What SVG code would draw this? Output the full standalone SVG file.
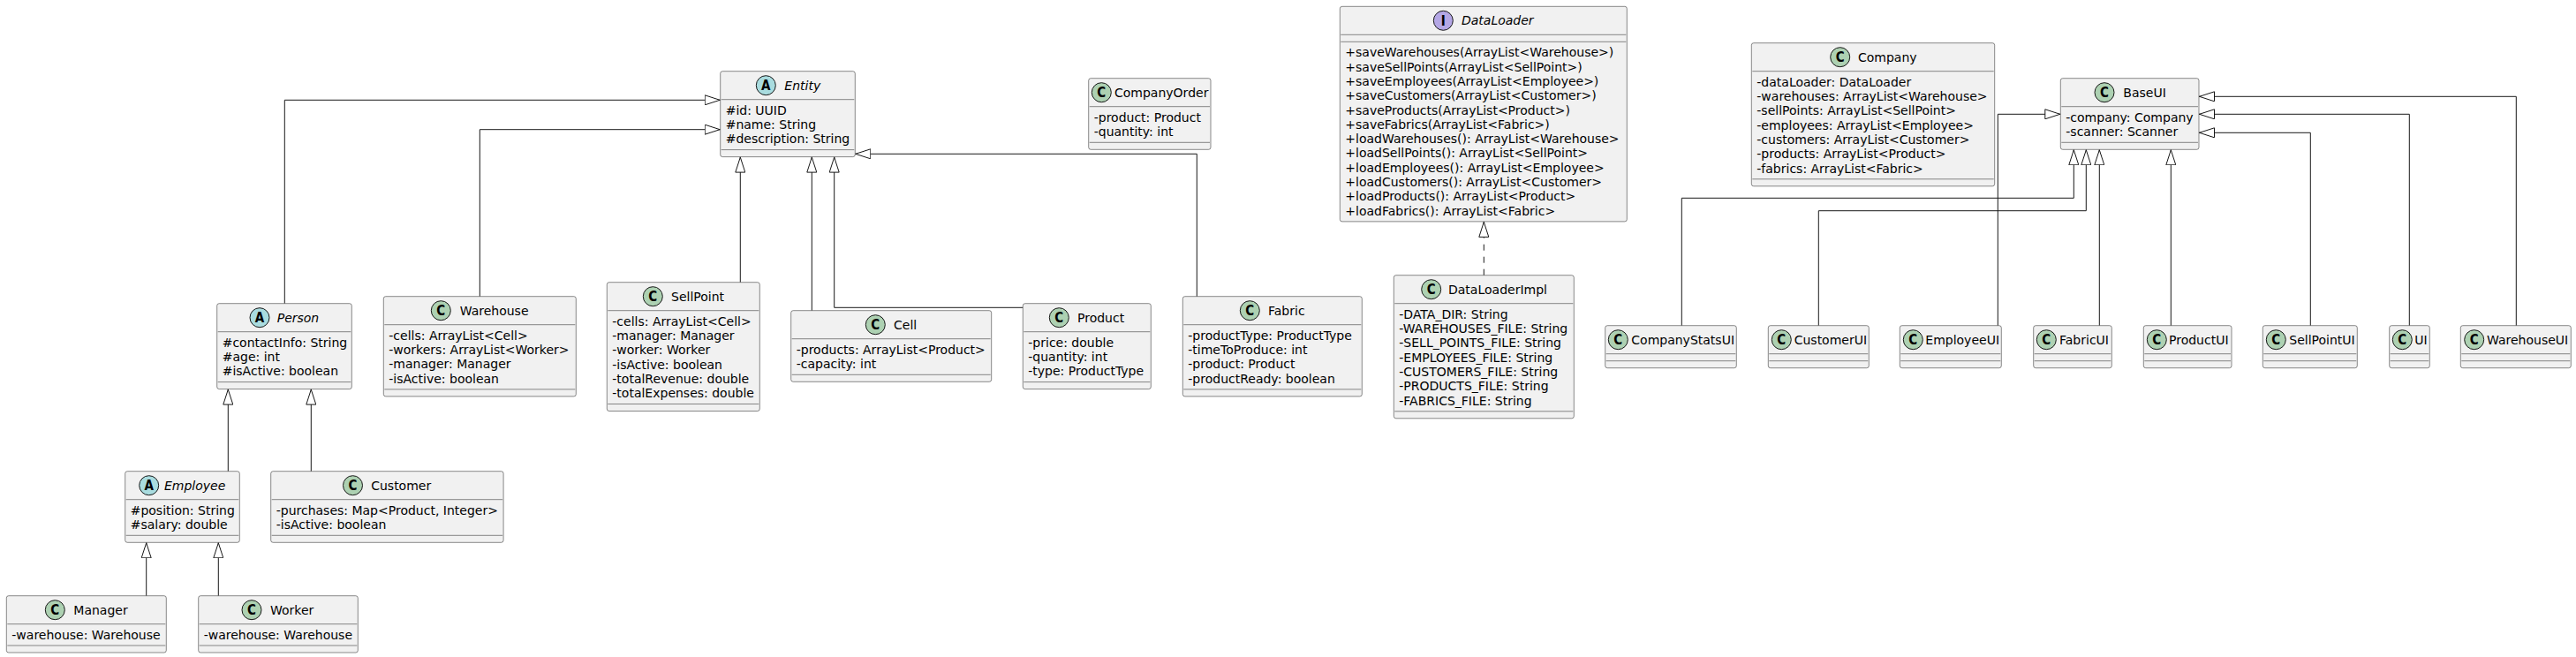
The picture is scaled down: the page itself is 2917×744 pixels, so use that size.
<svg xmlns="http://www.w3.org/2000/svg" width="2917" height="744" viewBox="0 0 2917 744">
<style>
.box{fill:#F1F1F1;stroke:#181818;stroke-width:0.5}
.sep{stroke:#181818;stroke-width:0.5}
.t{font-family:'DejaVu Sans',sans-serif;font-size:14px;fill:#000}
.it{font-style:italic}
.cc{fill:#ADD1B2;stroke:#181818;stroke-width:1}
.ca{fill:#A9DCDF;stroke:#181818;stroke-width:1}
.ci{fill:#B4A7E5;stroke:#181818;stroke-width:1}
.lt{font-family:'DejaVu Sans Condensed','DejaVu Sans',sans-serif;font-weight:bold;font-size:15px;text-anchor:middle;fill:#000}
.edge{fill:none;stroke:#181818;stroke-width:1}
.dash{stroke-dasharray:7,7}
</style>
<defs>
<marker id="ext" viewBox="0 0 18 12" refX="18" refY="6" markerWidth="18" markerHeight="12" markerUnits="userSpaceOnUse" orient="auto">
<path d="M0.5,0.5 L17.5,6 L0.5,11.5 Z" fill="#FFFFFF" stroke="#181818" stroke-width="1"/>
</marker>
</defs>
<rect width="2917" height="744" fill="#FFFFFF"/>

<g id="connectors">
<polyline class="edge" points="322.3,343.7 322.3,113.3 815.7,113.3" marker-end="url(#ext)"/>
<polyline class="edge" points="543.3,335.7 543.3,146.7 815.7,146.7" marker-end="url(#ext)"/>
<polyline class="edge" points="838.3,319.7 838.3,177.6" marker-end="url(#ext)"/>
<polyline class="edge" points="919.3,351.7 919.3,177.6" marker-end="url(#ext)"/>
<polyline class="edge" points="1158.3,348.3 944.7,348.3 944.7,177.6" marker-end="url(#ext)"/>
<polyline class="edge" points="1355.3,335.7 1355.3,174.3 968.3,174.3" marker-end="url(#ext)"/>
<polyline class="edge" points="258.3,533.7 258.3,440.6" marker-end="url(#ext)"/>
<polyline class="edge" points="352.3,533.7 352.3,440.6" marker-end="url(#ext)"/>
<polyline class="edge" points="165.7,674.7 165.7,614.3" marker-end="url(#ext)"/>
<polyline class="edge" points="247.3,674.7 247.3,614.3" marker-end="url(#ext)"/>
<polyline class="edge dash" points="1680.3,311.7 1680.3,250.9" marker-end="url(#ext)"/>
<polyline class="edge" points="1904.3,368.7 1904.3,224.3 2348.3,224.3 2348.3,169.3" marker-end="url(#ext)"/>
<polyline class="edge" points="2059.3,368.7 2059.3,238.7 2362.3,238.7 2362.3,169.3" marker-end="url(#ext)"/>
<polyline class="edge" points="2262.3,368.7 2262.3,129.3 2333.3,129.3" marker-end="url(#ext)"/>
<polyline class="edge" points="2377.3,368.7 2377.3,169.3" marker-end="url(#ext)"/>
<polyline class="edge" points="2458.3,368.7 2458.3,169.3" marker-end="url(#ext)"/>
<polyline class="edge" points="2616.3,368.7 2616.3,150.3 2490,150.3" marker-end="url(#ext)"/>
<polyline class="edge" points="2728.3,368.7 2728.3,129.3 2490,129.3" marker-end="url(#ext)"/>
<polyline class="edge" points="2849.3,368.7 2849.3,109.3 2490,109.3" marker-end="url(#ext)"/>
</g>

<g id="Entity">
<rect class="box" x="815.7" y="80.7" width="152.6" height="96.9" rx="2.5"/>
<circle class="ca" cx="867.3" cy="96.7" r="11"/><text class="lt" x="867.3" y="102.2">A</text>
<text class="t it" x="888.3" y="101.55">Entity</text>
<line class="sep" x1="816.7" y1="112.7" x2="967.3" y2="112.7"/>
<text class="t" x="821.7" y="129.7">#id: UUID</text>
<text class="t" x="821.7" y="146.0">#name: String</text>
<text class="t" x="821.7" y="162.3">#description: String</text>
<line class="sep" x1="816.7" y1="169.6" x2="967.3" y2="169.6"/>
</g>

<g id="Person">
<rect class="box" x="245.7" y="343.7" width="152.6" height="96.9" rx="2.5"/>
<circle class="ca" cx="294" cy="359.7" r="11"/><text class="lt" x="294" y="365.2">A</text>
<text class="t it" x="313.7" y="364.55">Person</text>
<line class="sep" x1="246.7" y1="375.7" x2="397.3" y2="375.7"/>
<text class="t" x="251.7" y="392.7">#contactInfo: String</text>
<text class="t" x="251.7" y="409.0">#age: int</text>
<text class="t" x="251.7" y="425.3">#isActive: boolean</text>
<line class="sep" x1="246.7" y1="432.6" x2="397.3" y2="432.6"/>
</g>

<g id="Employee">
<rect class="box" x="141.7" y="533.7" width="129.6" height="80.6" rx="2.5"/>
<circle class="ca" cx="168.7" cy="549.7" r="11"/><text class="lt" x="168.7" y="555.2">A</text>
<text class="t it" x="186" y="554.55">Employee</text>
<line class="sep" x1="142.7" y1="565.7" x2="270.3" y2="565.7"/>
<text class="t" x="147.7" y="582.7">#position: String</text>
<text class="t" x="147.7" y="599.0">#salary: double</text>
<line class="sep" x1="142.7" y1="606.3" x2="270.3" y2="606.3"/>
</g>

<g id="Customer">
<rect class="box" x="306.7" y="533.7" width="263.4" height="80.6" rx="2.5"/>
<circle class="cc" cx="399.5" cy="549.7" r="11"/><text class="lt" x="399.5" y="555.2">C</text>
<text class="t" x="420.2" y="554.55">Customer</text>
<line class="sep" x1="307.7" y1="565.7" x2="569.1" y2="565.7"/>
<text class="t" x="312.7" y="582.7">-purchases: Map&lt;Product, Integer&gt;</text>
<text class="t" x="312.7" y="599.0">-isActive: boolean</text>
<line class="sep" x1="307.7" y1="606.3" x2="569.1" y2="606.3"/>
</g>

<g id="Manager">
<rect class="box" x="7.3" y="674.7" width="181" height="64.3" rx="2.5"/>
<circle class="cc" cx="62.3" cy="690.7" r="11"/><text class="lt" x="62.3" y="696.2">C</text>
<text class="t" x="83.3" y="695.55">Manager</text>
<line class="sep" x1="8.3" y1="706.7" x2="187.3" y2="706.7"/>
<text class="t" x="13.3" y="723.7">-warehouse: Warehouse</text>
<line class="sep" x1="8.3" y1="731" x2="187.3" y2="731"/>
</g>

<g id="Worker">
<rect class="box" x="224.7" y="674.7" width="180.6" height="64.3" rx="2.5"/>
<circle class="cc" cx="285" cy="690.7" r="11"/><text class="lt" x="285" y="696.2">C</text>
<text class="t" x="306" y="695.55">Worker</text>
<line class="sep" x1="225.7" y1="706.7" x2="404.3" y2="706.7"/>
<text class="t" x="230.7" y="723.7">-warehouse: Warehouse</text>
<line class="sep" x1="225.7" y1="731" x2="404.3" y2="731"/>
</g>

<g id="Warehouse">
<rect class="box" x="434.3" y="335.7" width="218" height="113.2" rx="2.5"/>
<circle class="cc" cx="499.3" cy="351.7" r="11"/><text class="lt" x="499.3" y="357.2">C</text>
<text class="t" x="520.7" y="356.55">Warehouse</text>
<line class="sep" x1="435.3" y1="367.7" x2="651.3" y2="367.7"/>
<text class="t" x="440.3" y="384.7">-cells: ArrayList&lt;Cell&gt;</text>
<text class="t" x="440.3" y="401.0">-workers: ArrayList&lt;Worker&gt;</text>
<text class="t" x="440.3" y="417.3">-manager: Manager</text>
<text class="t" x="440.3" y="433.6">-isActive: boolean</text>
<line class="sep" x1="435.3" y1="440.9" x2="651.3" y2="440.9"/>
</g>

<g id="SellPoint">
<rect class="box" x="687.3" y="319.7" width="173" height="145.8" rx="2.5"/>
<circle class="cc" cx="739.3" cy="335.7" r="11"/><text class="lt" x="739.3" y="341.2">C</text>
<text class="t" x="760" y="340.55">SellPoint</text>
<line class="sep" x1="688.3" y1="351.7" x2="859.3" y2="351.7"/>
<text class="t" x="693.3" y="368.7">-cells: ArrayList&lt;Cell&gt;</text>
<text class="t" x="693.3" y="385.0">-manager: Manager</text>
<text class="t" x="693.3" y="401.3">-worker: Worker</text>
<text class="t" x="693.3" y="417.6">-isActive: boolean</text>
<text class="t" x="693.3" y="433.9">-totalRevenue: double</text>
<text class="t" x="693.3" y="450.2">-totalExpenses: double</text>
<line class="sep" x1="688.3" y1="457.5" x2="859.3" y2="457.5"/>
</g>

<g id="Cell">
<rect class="box" x="895.7" y="351.7" width="227" height="80.6" rx="2.5"/>
<circle class="cc" cx="991.3" cy="367.7" r="11"/><text class="lt" x="991.3" y="373.2">C</text>
<text class="t" x="1012" y="372.55">Cell</text>
<line class="sep" x1="896.7" y1="383.7" x2="1121.7" y2="383.7"/>
<text class="t" x="901.7" y="400.7">-products: ArrayList&lt;Product&gt;</text>
<text class="t" x="901.7" y="417.0">-capacity: int</text>
<line class="sep" x1="896.7" y1="424.3" x2="1121.7" y2="424.3"/>
</g>

<g id="CompanyOrder">
<rect class="box" x="1232.7" y="88.7" width="138.3" height="80.6" rx="2.5"/>
<circle class="cc" cx="1247.3" cy="104.7" r="11"/><text class="lt" x="1247.3" y="110.2">C</text>
<text class="t" x="1262" y="109.55">CompanyOrder</text>
<line class="sep" x1="1233.7" y1="120.7" x2="1370" y2="120.7"/>
<text class="t" x="1238.7" y="137.7">-product: Product</text>
<text class="t" x="1238.7" y="154.0">-quantity: int</text>
<line class="sep" x1="1233.7" y1="161.3" x2="1370" y2="161.3"/>
</g>

<g id="Product">
<rect class="box" x="1158.3" y="343.7" width="145" height="96.9" rx="2.5"/>
<circle class="cc" cx="1199.3" cy="359.7" r="11"/><text class="lt" x="1199.3" y="365.2">C</text>
<text class="t" x="1220" y="364.55">Product</text>
<line class="sep" x1="1159.3" y1="375.7" x2="1302.3" y2="375.7"/>
<text class="t" x="1164.3" y="392.7">-price: double</text>
<text class="t" x="1164.3" y="409.0">-quantity: int</text>
<text class="t" x="1164.3" y="425.3">-type: ProductType</text>
<line class="sep" x1="1159.3" y1="432.6" x2="1302.3" y2="432.6"/>
</g>

<g id="Fabric">
<rect class="box" x="1339.3" y="335.7" width="203" height="113.2" rx="2.5"/>
<circle class="cc" cx="1415.3" cy="351.7" r="11"/><text class="lt" x="1415.3" y="357.2">C</text>
<text class="t" x="1436" y="356.55">Fabric</text>
<line class="sep" x1="1340.3" y1="367.7" x2="1541.3" y2="367.7"/>
<text class="t" x="1345.3" y="384.7">-productType: ProductType</text>
<text class="t" x="1345.3" y="401.0">-timeToProduce: int</text>
<text class="t" x="1345.3" y="417.3">-product: Product</text>
<text class="t" x="1345.3" y="433.6">-productReady: boolean</text>
<line class="sep" x1="1340.3" y1="440.9" x2="1541.3" y2="440.9"/>
</g>

<g id="DataLoader">
<rect class="box" x="1517.3" y="7.3" width="325" height="243.6" rx="2.5"/>
<circle class="ci" cx="1634.3" cy="23.3" r="11"/><text class="lt" x="1634.3" y="28.8">I</text>
<text class="t it" x="1655" y="28.15">DataLoader</text>
<line class="sep" x1="1518.3" y1="39.3" x2="1841.3" y2="39.3"/>
<line class="sep" x1="1518.3" y1="47.3" x2="1841.3" y2="47.3"/>
<text class="t" x="1523.3" y="64.3">+saveWarehouses(ArrayList&lt;Warehouse&gt;)</text>
<text class="t" x="1523.3" y="80.6">+saveSellPoints(ArrayList&lt;SellPoint&gt;)</text>
<text class="t" x="1523.3" y="96.9">+saveEmployees(ArrayList&lt;Employee&gt;)</text>
<text class="t" x="1523.3" y="113.2">+saveCustomers(ArrayList&lt;Customer&gt;)</text>
<text class="t" x="1523.3" y="129.5">+saveProducts(ArrayList&lt;Product&gt;)</text>
<text class="t" x="1523.3" y="145.8">+saveFabrics(ArrayList&lt;Fabric&gt;)</text>
<text class="t" x="1523.3" y="162.1">+loadWarehouses(): ArrayList&lt;Warehouse&gt;</text>
<text class="t" x="1523.3" y="178.4">+loadSellPoints(): ArrayList&lt;SellPoint&gt;</text>
<text class="t" x="1523.3" y="194.7">+loadEmployees(): ArrayList&lt;Employee&gt;</text>
<text class="t" x="1523.3" y="211.0">+loadCustomers(): ArrayList&lt;Customer&gt;</text>
<text class="t" x="1523.3" y="227.3">+loadProducts(): ArrayList&lt;Product&gt;</text>
<text class="t" x="1523.3" y="243.6">+loadFabrics(): ArrayList&lt;Fabric&gt;</text>
</g>

<g id="DataLoaderImpl">
<rect class="box" x="1578.3" y="311.7" width="204" height="162.1" rx="2.5"/>
<circle class="cc" cx="1620.7" cy="327.7" r="11"/><text class="lt" x="1620.7" y="333.2">C</text>
<text class="t" x="1640" y="332.55">DataLoaderImpl</text>
<line class="sep" x1="1579.3" y1="343.7" x2="1781.3" y2="343.7"/>
<text class="t" x="1584.3" y="360.7">-DATA_DIR: String</text>
<text class="t" x="1584.3" y="377.0">-WAREHOUSES_FILE: String</text>
<text class="t" x="1584.3" y="393.3">-SELL_POINTS_FILE: String</text>
<text class="t" x="1584.3" y="409.6">-EMPLOYEES_FILE: String</text>
<text class="t" x="1584.3" y="425.9">-CUSTOMERS_FILE: String</text>
<text class="t" x="1584.3" y="442.2">-PRODUCTS_FILE: String</text>
<text class="t" x="1584.3" y="458.5">-FABRICS_FILE: String</text>
<line class="sep" x1="1579.3" y1="465.8" x2="1781.3" y2="465.8"/>
</g>

<g id="Company">
<rect class="box" x="1983.3" y="48.7" width="275.4" height="162.1" rx="2.5"/>
<circle class="cc" cx="2083.7" cy="64.7" r="11"/><text class="lt" x="2083.7" y="70.2">C</text>
<text class="t" x="2104" y="69.55">Company</text>
<line class="sep" x1="1984.3" y1="80.7" x2="2257.7" y2="80.7"/>
<text class="t" x="1989.3" y="97.7">-dataLoader: DataLoader</text>
<text class="t" x="1989.3" y="114.0">-warehouses: ArrayList&lt;Warehouse&gt;</text>
<text class="t" x="1989.3" y="130.3">-sellPoints: ArrayList&lt;SellPoint&gt;</text>
<text class="t" x="1989.3" y="146.6">-employees: ArrayList&lt;Employee&gt;</text>
<text class="t" x="1989.3" y="162.9">-customers: ArrayList&lt;Customer&gt;</text>
<text class="t" x="1989.3" y="179.2">-products: ArrayList&lt;Product&gt;</text>
<text class="t" x="1989.3" y="195.5">-fabrics: ArrayList&lt;Fabric&gt;</text>
<line class="sep" x1="1984.3" y1="202.8" x2="2257.7" y2="202.8"/>
</g>

<g id="BaseUI">
<rect class="box" x="2333.3" y="88.7" width="156.7" height="80.6" rx="2.5"/>
<circle class="cc" cx="2383" cy="104.7" r="11"/><text class="lt" x="2383" y="110.2">C</text>
<text class="t" x="2404.3" y="109.55">BaseUI</text>
<line class="sep" x1="2334.3" y1="120.7" x2="2489" y2="120.7"/>
<text class="t" x="2339.3" y="137.7">-company: Company</text>
<text class="t" x="2339.3" y="154.0">-scanner: Scanner</text>
<line class="sep" x1="2334.3" y1="161.3" x2="2489" y2="161.3"/>
</g>

<g id="CompanyStatsUI">
<rect class="box" x="1817.7" y="368.7" width="148.6" height="48" rx="2.5"/>
<circle class="cc" cx="1832.3" cy="384.7" r="11"/><text class="lt" x="1832.3" y="390.2">C</text>
<text class="t" x="1847.3" y="389.55">CompanyStatsUI</text>
<line class="sep" x1="1818.7" y1="400.7" x2="1965.3" y2="400.7"/>
<line class="sep" x1="1818.7" y1="408.7" x2="1965.3" y2="408.7"/>
</g>

<g id="CustomerUI">
<rect class="box" x="2002.3" y="368.7" width="114" height="48" rx="2.5"/>
<circle class="cc" cx="2017.3" cy="384.7" r="11"/><text class="lt" x="2017.3" y="390.2">C</text>
<text class="t" x="2031.7" y="389.55">CustomerUI</text>
<line class="sep" x1="2003.3" y1="400.7" x2="2115.3" y2="400.7"/>
<line class="sep" x1="2003.3" y1="408.7" x2="2115.3" y2="408.7"/>
</g>

<g id="EmployeeUI">
<rect class="box" x="2151.3" y="368.7" width="115" height="48" rx="2.5"/>
<circle class="cc" cx="2166.3" cy="384.7" r="11"/><text class="lt" x="2166.3" y="390.2">C</text>
<text class="t" x="2180.3" y="389.55">EmployeeUI</text>
<line class="sep" x1="2152.3" y1="400.7" x2="2265.3" y2="400.7"/>
<line class="sep" x1="2152.3" y1="408.7" x2="2265.3" y2="408.7"/>
</g>

<g id="FabricUI">
<rect class="box" x="2302.7" y="368.7" width="88.6" height="48" rx="2.5"/>
<circle class="cc" cx="2317.3" cy="384.7" r="11"/><text class="lt" x="2317.3" y="390.2">C</text>
<text class="t" x="2332" y="389.55">FabricUI</text>
<line class="sep" x1="2303.7" y1="400.7" x2="2390.3" y2="400.7"/>
<line class="sep" x1="2303.7" y1="408.7" x2="2390.3" y2="408.7"/>
</g>

<g id="ProductUI">
<rect class="box" x="2427.3" y="368.7" width="99.7" height="48" rx="2.5"/>
<circle class="cc" cx="2442.3" cy="384.7" r="11"/><text class="lt" x="2442.3" y="390.2">C</text>
<text class="t" x="2456" y="389.55">ProductUI</text>
<line class="sep" x1="2428.3" y1="400.7" x2="2526" y2="400.7"/>
<line class="sep" x1="2428.3" y1="408.7" x2="2526" y2="408.7"/>
</g>

<g id="SellPointUI">
<rect class="box" x="2562.3" y="368.7" width="107" height="48" rx="2.5"/>
<circle class="cc" cx="2577.3" cy="384.7" r="11"/><text class="lt" x="2577.3" y="390.2">C</text>
<text class="t" x="2592.3" y="389.55">SellPointUI</text>
<line class="sep" x1="2563.3" y1="400.7" x2="2668.3" y2="400.7"/>
<line class="sep" x1="2563.3" y1="408.7" x2="2668.3" y2="408.7"/>
</g>

<g id="UI">
<rect class="box" x="2705.7" y="368.7" width="45.6" height="48" rx="2.5"/>
<circle class="cc" cx="2720.3" cy="384.7" r="11"/><text class="lt" x="2720.3" y="390.2">C</text>
<text class="t" x="2734.3" y="389.55">UI</text>
<line class="sep" x1="2706.7" y1="400.7" x2="2750.3" y2="400.7"/>
<line class="sep" x1="2706.7" y1="408.7" x2="2750.3" y2="408.7"/>
</g>

<g id="WarehouseUI">
<rect class="box" x="2786.3" y="368.7" width="125" height="48" rx="2.5"/>
<circle class="cc" cx="2801.7" cy="384.7" r="11"/><text class="lt" x="2801.7" y="390.2">C</text>
<text class="t" x="2816" y="389.55">WarehouseUI</text>
<line class="sep" x1="2787.3" y1="400.7" x2="2910.3" y2="400.7"/>
<line class="sep" x1="2787.3" y1="408.7" x2="2910.3" y2="408.7"/>
</g>
</svg>
